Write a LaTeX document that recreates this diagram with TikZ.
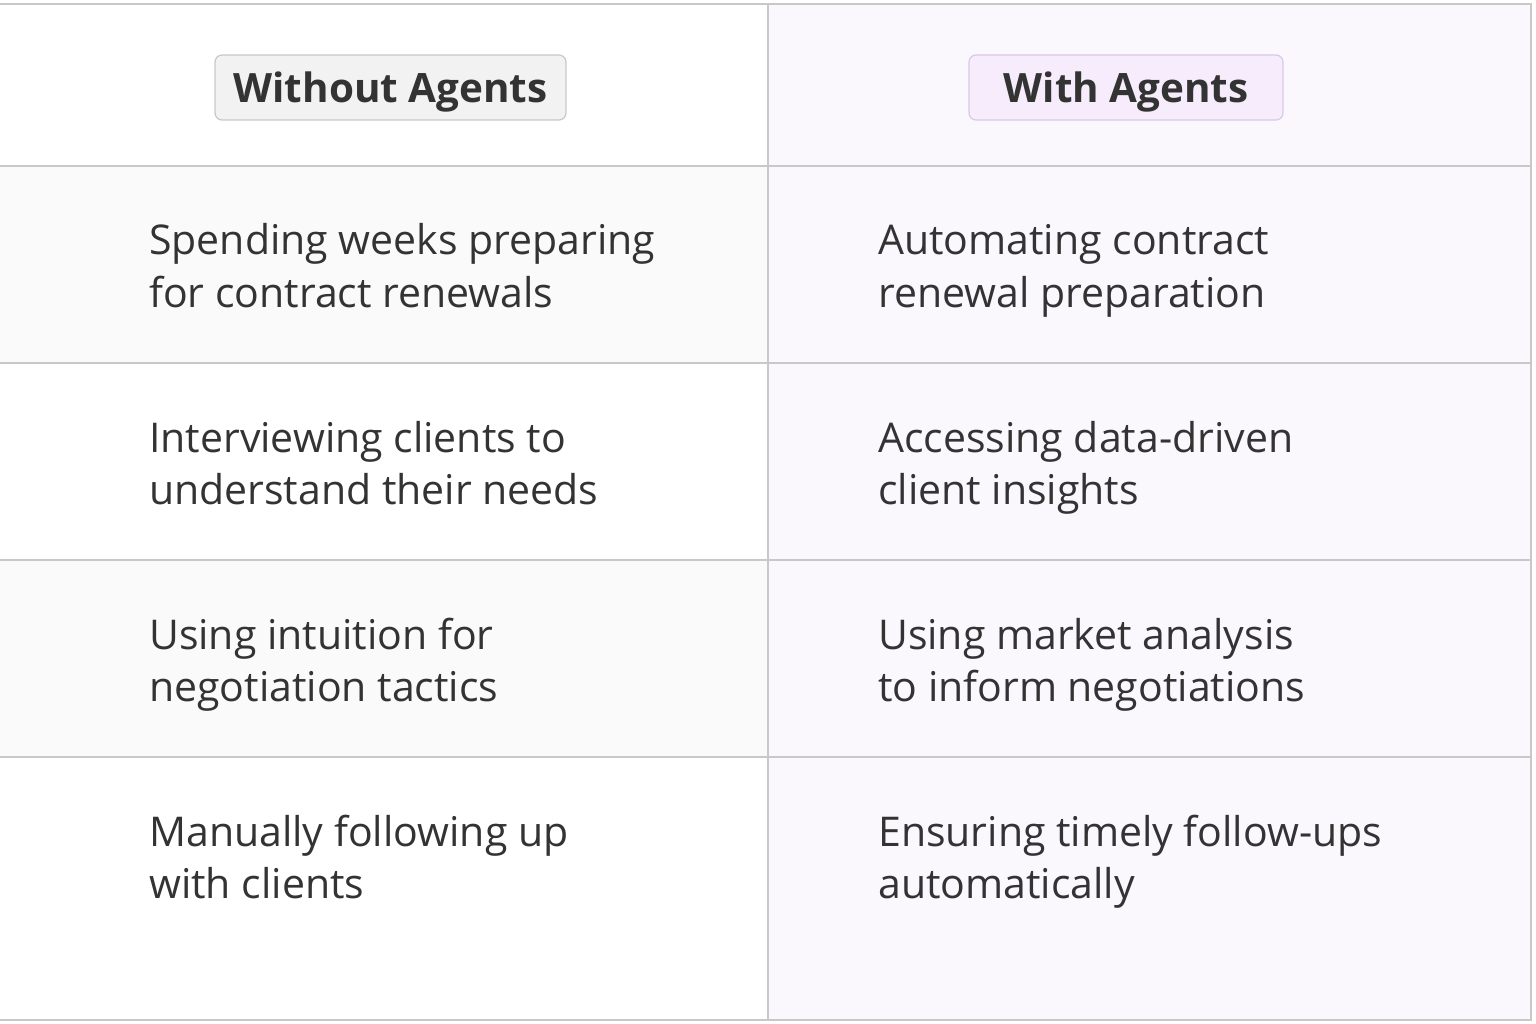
\documentclass[tikz,border=0pt]{standalone}
\usepackage{fontspec}
\setmainfont{Open Sans}
\definecolor{grid}{HTML}{C8C8C8}
\definecolor{lav}{HTML}{FAF8FD}
\definecolor{rowg}{HTML}{FAFAFA}
\definecolor{txt}{HTML}{333333}
\definecolor{hg}{HTML}{F2F2F2}
\definecolor{hpb}{HTML}{D8C8E8}
\definecolor{hpf}{HTML}{F6ECFC}
\tikzset{x=1pt,y=-1pt,
 hdrbox/.style={draw=#1,rounded corners=7pt,line width=1.2pt,minimum height=65pt,inner sep=0pt},
 hdrtxt/.style={font=\fontsize{40.4}{46}\selectfont\bfseries,text=txt,inner sep=0pt},
 cell/.style={anchor=west,align=left,inner sep=0pt,font=\fontsize{41}{52}\selectfont,text=txt}}
\begin{document}
\begin{tikzpicture}
\useasboundingbox (0,0) rectangle (1536,1024);
\fill[white] (0,0) rectangle (1536,1024);
\fill[rowg] (0,166) rectangle (768,363);
\fill[rowg] (0,560) rectangle (768,757);
\fill[lav] (768,4) rectangle (1531,1020);
\draw[grid,line width=1.2pt] (0,4) -- (1531,4) -- (1531,1020) -- (0,1020);
\draw[grid,line width=1.2pt] (768,4) -- (768,1020);
\foreach \y in {166,363,560,757} \draw[grid,line width=1.2pt] (0,\y) -- (1531,\y);
\node[hdrbox=grid,fill=hg,minimum width=351pt] (h1) at (390.5,87.5) {};
\node[hdrtxt] (t1) at ([yshift=-5pt]h1.center) {Without Agents};
\node[hdrbox=hpb,fill=hpf,minimum width=314pt] (h2) at (1126,87.5) {};
\node[hdrtxt] (t2) at ([yshift=-5pt]h2.center) {With Agents};
\node[cell] (a1) at (149,270.6) {\strut Spending weeks preparing\\for contract renewals\strut};
\node[cell] (a2) at (149,467.6) {\strut Interviewing clients to\\understand their needs\strut};
\node[cell] (a3) at (149,664.6) {\strut Using intuition for\\negotiation tactics\strut};
\node[cell] (a4) at (149,861.6) {\strut Manually following up\\with clients\strut};
\node[cell] (b1) at (878,270.6) {\strut Automating contract\\renewal preparation\strut};
\node[cell] (b2) at (878,467.6) {\strut Accessing data-driven\\client insights\strut};
\node[cell] (b3) at (878,664.6) {\strut Using market analysis\\to inform negotiations\strut};
\node[cell] (b4) at (878,861.6) {\strut Ensuring timely follow-ups\\automatically\strut};
\end{tikzpicture}
\end{document}
